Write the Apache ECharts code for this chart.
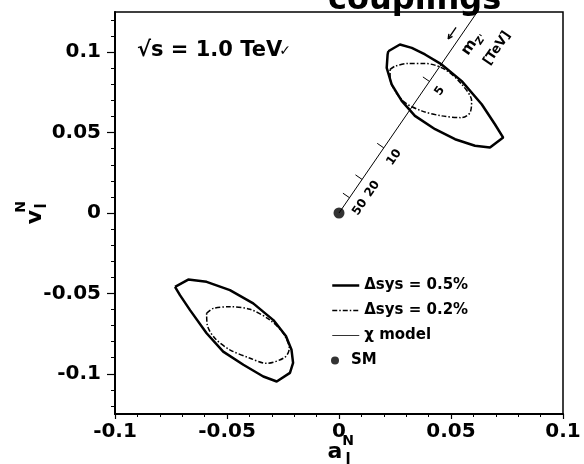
<!DOCTYPE html>
<html><head><meta charset="utf-8">
<script src="https://cdn.jsdelivr.net/npm/echarts@6.0.0/dist/echarts.min.js"></script>
<style>html,body{margin:0;padding:0;background:#fff}#c{width:584px;height:464px}</style>
</head><body><div id="c"></div>
<script>
// ---- data ----
const xTickValues = [-0.1, -0.05, 0, 0.05, 0.1];
const yTickValues = [-0.1, -0.05, 0, 0.05, 0.1];
const yMinorTickValues = [];
for (let k = -12; k <= 12; k++) yMinorTickValues.push(k / 100);

const sys05Upper = [[0.0220,0.1006],[0.0272,0.1048],[0.0325,0.1027],[0.0384,0.0986],[0.0458,0.0924],[0.0548,0.0820],[0.0637,0.0676],[0.0696,0.0552],[0.0733,0.0469],[0.0674,0.0407],[0.0607,0.0418],[0.0518,0.0459],[0.0429,0.0521],[0.0339,0.0604],[0.0280,0.0697],[0.0235,0.0800],[0.0213,0.0903],[0.0217,0.0986]];
const sys05Lower = [[-0.0732,-0.0459],[-0.0673,-0.0414],[-0.0591,-0.0428],[-0.0487,-0.0480],[-0.0383,-0.0562],[-0.0293,-0.0666],[-0.0237,-0.0765],[-0.0212,-0.0851],[-0.0205,-0.0932],[-0.0219,-0.0994],[-0.0278,-0.1048],[-0.0338,-0.1017],[-0.0427,-0.0944],[-0.0517,-0.0862],[-0.0591,-0.0748],[-0.0665,-0.0604],[-0.0710,-0.0511]];
const sys02Upper = [[0.0228,0.0893],[0.0250,0.0913],[0.0309,0.0930],[0.0384,0.0930],[0.0473,0.0893],[0.0548,0.0800],[0.0592,0.0697],[0.0585,0.0624],[0.0548,0.0593],[0.0458,0.0604],[0.0369,0.0635],[0.0295,0.0686],[0.0250,0.0759],[0.0228,0.0841]];
const sys02Lower = [[-0.0591,-0.0624],[-0.0561,-0.0593],[-0.0487,-0.0583],[-0.0397,-0.0599],[-0.0308,-0.0666],[-0.0249,-0.0748],[-0.0222,-0.0841],[-0.0241,-0.0897],[-0.0326,-0.0935],[-0.0397,-0.0903],[-0.0487,-0.0851],[-0.0554,-0.0779],[-0.0588,-0.0697]];
const chiModel = [[0, 0], [0.0617, 0.125]];
const smPoint = [[0, 0]];
const massLabels = ['5', '10', '20', '50'];
const massA = [0.0404, 0.0200, 0.0103, 0.0047];
const massV = [0.0818, 0.0405, 0.0209, 0.0095];
const annotAnchor = [[0.0555, 0.1124]];

const FONT = '"DejaVu Sans", sans-serif';
const close = arr => arr.concat([arr[0]]);
const fmt = v => { const r = Math.round(v * 1000) / 1000; return r === 0 ? '0' : String(r); };

function lineDir(api) {
  const o = api.coord(chiModel[0]), e = api.coord(chiModel[1]);
  const dx = e[0] - o[0], dy = e[1] - o[1], L = Math.hypot(dx, dy);
  return [dx / L, dy / L];
}

const chart = echarts.init(document.getElementById('c'), null, {renderer: 'canvas'});
const solidStyle = {color: '#000', width: 2.5, type: 'solid'};
const dashStyle = {color: '#000', width: 1.5, type: [5, 2, 1.5, 2]};
const chiStyle = {color: '#000', width: 1, type: 'solid'};

chart.setOption({
  backgroundColor: '#fff',
  animation: false,
  grid: {left: 115, right: 21, top: 12, bottom: 50, show: true, borderColor: '#000', borderWidth: 1.5, backgroundColor: 'transparent'},
  xAxis: {
    type: 'value', min: -0.1, max: 0.1, interval: 0.05,
    axisLine: {show: true, onZero: false, lineStyle: {color: '#000', width: 2}},
    axisTick: {show: true, length: 5, lineStyle: {color: '#000', width: 1.2}},
    minorTick: {show: true, splitNumber: 5, length: 3, lineStyle: {color: '#000', width: 1}},
    splitLine: {show: false},
    axisLabel: {margin: 8, color: '#000', fontFamily: FONT, fontWeight: 'bold', fontSize: 20, formatter: fmt}
  },
  yAxis: [{
    type: 'value', min: -0.125, max: 0.125,
    axisLine: {show: true, onZero: false, lineStyle: {color: '#000', width: 2}},
    axisTick: {show: true, length: 8, customValues: yTickValues, lineStyle: {color: '#000', width: 1.2}},
    splitLine: {show: false},
    axisLabel: {margin: 14, color: '#000', fontFamily: FONT, fontWeight: 'bold', fontSize: 20, customValues: yTickValues, formatter: fmt}
  }, {
    type: 'value', min: -0.125, max: 0.125, position: 'left',
    axisLine: {show: false, onZero: false},
    axisTick: {show: true, length: 4, customValues: yMinorTickValues, lineStyle: {color: '#000', width: 1}},
    splitLine: {show: false},
    axisLabel: {show: false}
  }],
  legend: [{
    data: [
      {name: 'Δsys = 0.5%', lineStyle: {width: 2.5, color: '#000'}},
      {name: 'Δsys = 0.2%', lineStyle: {width: 1.5, color: '#000', type: [5, 2, 1.5, 2]}},
      {name: 'χ model', lineStyle: {width: 1, color: '#333'}}
    ],
    orient: 'vertical', left: 331, top: 278, padding: 0, itemWidth: 27, itemHeight: 14, itemGap: 10,
    itemStyle: {opacity: 0},
    textStyle: {color: '#000', fontFamily: FONT, fontWeight: 'bold', fontSize: 15},
    selectedMode: false
  }, {
    data: ['SM'], orient: 'vertical', left: 331, top: 353, padding: 0, itemWidth: 22, itemHeight: 8,
    textStyle: {color: '#000', fontFamily: FONT, fontWeight: 'bold', fontSize: 15},
    selectedMode: false
  }],
  graphic: [
    {type: 'text', left: 137, top: 40, style: {text: '√s = 1.0 TeV', font: 'bold 21px ' + FONT, fill: '#000'}},
    {type: 'text', x: 328, y: 1, style: {text: 'couplings', font: 'bold 32px ' + FONT, fill: '#000', align: 'left', verticalAlign: 'middle'}},
    {type: 'text', x: 285, y: 51, style: {text: '✓', font: 'bold 14px ' + FONT, fill: '#000', align: 'center', verticalAlign: 'middle'}},
    {type: 'text', x: 335, y: 452, style: {text: 'a', font: 'bold 22px ' + FONT, fill: '#000', align: 'center', verticalAlign: 'middle'}},
    {type: 'text', x: 348, y: 441, style: {text: 'N', font: 'bold 14px ' + FONT, fill: '#000', align: 'center', verticalAlign: 'middle'}},
    {type: 'text', x: 348, y: 460, style: {text: 'l', font: 'bold 15px ' + FONT, fill: '#000', align: 'center', verticalAlign: 'middle'}},
    {type: 'text', x: 35, y: 217, rotation: Math.PI / 2, style: {text: 'v', font: 'bold 22px ' + FONT, fill: '#000', align: 'center', verticalAlign: 'middle'}},
    {type: 'text', x: 21, y: 207, rotation: Math.PI / 2, style: {text: 'N', font: 'bold 14px ' + FONT, fill: '#000', align: 'center', verticalAlign: 'middle'}},
    {type: 'text', x: 42, y: 206, rotation: Math.PI / 2, style: {text: 'l', font: 'bold 15px ' + FONT, fill: '#000', align: 'center', verticalAlign: 'middle'}}
  ],
  series: [
    {name: 'Δsys = 0.5%', type: 'line', data: close(sys05Upper), symbol: 'none', lineStyle: solidStyle, itemStyle: {color: '#000'}, z: 3},
    {name: 'Δsys = 0.5%', type: 'line', data: close(sys05Lower), symbol: 'none', lineStyle: solidStyle, itemStyle: {color: '#000'}, z: 3},
    {name: 'Δsys = 0.2%', type: 'line', data: close(sys02Upper), symbol: 'none', smooth: 0.3, lineStyle: dashStyle, itemStyle: {color: '#000'}, z: 3},
    {name: 'Δsys = 0.2%', type: 'line', data: close(sys02Lower), symbol: 'none', smooth: 0.3, lineStyle: dashStyle, itemStyle: {color: '#000'}, z: 3},
    {name: 'χ model', type: 'line', data: chiModel, symbol: 'none', lineStyle: chiStyle, itemStyle: {color: '#000'}, z: 2},
    {name: 'mass ticks', type: 'custom', data: massA.map((a, i) => [a, massV[i]]), z: 4,
      renderItem: (params, api) => {
        const p = api.coord([api.value(0), api.value(1)]);
        const d = lineDir(api);
        const n = [d[1], -d[0]];
        const rot = Math.atan2(-d[1], d[0]);
        const lab = massLabels[params.dataIndex];
        return {type: 'group', children: [
          {type: 'line', shape: {x1: p[0], y1: p[1], x2: p[0] + n[0] * 8, y2: p[1] + n[1] * 8}, style: {stroke: '#000', lineWidth: 1}},
          {type: 'text', x: p[0] - n[0] * 14 - d[0] * 2, y: p[1] - n[1] * 14 - d[1] * 2, rotation: rot,
            style: {text: lab, font: 'bold 12px ' + FONT, fill: '#000', align: 'center', verticalAlign: 'middle'}}
        ]};
      }},
    {name: 'mass axis title', type: 'custom', data: annotAnchor, z: 4,
      renderItem: (params, api) => {
        const p = api.coord([api.value(0), api.value(1)]);
        const d = lineDir(api);
        const n = [d[1], -d[0]];
        const rot = Math.atan2(-d[1], d[0]);
        const c = [p[0] + 8.8 * n[0] - 7 * d[0], p[1] + 8.8 * n[1] - 7 * d[1]];
        const head = [c[0] - 7 * d[0], c[1] - 7 * d[1]];
        const tail = [c[0] + 7 * d[0], c[1] + 7 * d[1]];
        const wing = ang => {
          const ca = Math.cos(ang), sa = Math.sin(ang);
          const w = [d[0] * ca - d[1] * sa, d[0] * sa + d[1] * ca];
          return {type: 'line', shape: {x1: head[0], y1: head[1], x2: head[0] + 5 * w[0], y2: head[1] + 5 * w[1]}, style: {stroke: '#000', lineWidth: 1.3}};
        };
        const t1 = [p[0] - 12 * n[0] - 4 * d[0], p[1] - 12 * n[1] - 4 * d[1]];
        const t2 = [p[0] - 37 * n[0] + 6 * d[0], p[1] - 37 * n[1] + 6 * d[1]];
        return {type: 'group', children: [
          {type: 'line', shape: {x1: tail[0], y1: tail[1], x2: head[0], y2: head[1]}, style: {stroke: '#000', lineWidth: 1.3}},
          wing(0.45), wing(-0.45),
          {type: 'text', x: t1[0], y: t1[1], rotation: rot,
            style: {text: '{m|m}{s|Z\'}', align: 'center', verticalAlign: 'middle', fill: '#000',
              rich: {m: {font: 'bold 15px ' + FONT, fill: '#000', lineHeight: 18, verticalAlign: 'bottom'},
                     s: {font: 'bold 10px ' + FONT, fill: '#000', lineHeight: 18, verticalAlign: 'bottom', padding: [0, 0, -3, 0]}}}},
          {type: 'text', x: t2[0], y: t2[1], rotation: rot,
            style: {text: '[TeV]', font: 'bold 13px ' + FONT, fill: '#000', align: 'center', verticalAlign: 'middle'}}
        ]};
      }},
    {name: 'SM', type: 'scatter', data: smPoint, symbol: 'circle', symbolSize: 11, itemStyle: {color: '#000'}, z: 5}
  ]
});
</script>
</body></html>
